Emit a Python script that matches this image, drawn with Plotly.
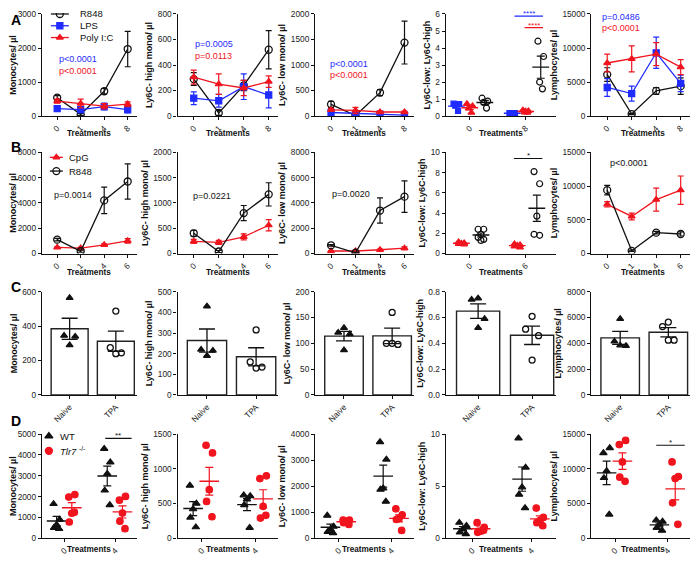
import numpy as np
import plotly.graph_objects as go

# ======================= DATA =======================
days_A = ["0", "1", "4", "8"]
days_B = ["0", "1", "4", "6"]
groups_A4 = ["0", "8"]
groups_B4 = ["0", "6"]
groups_C = ["Naive", "TPA"]
groups_D = ["0", "4"]

# Row A (means and SEM)
A_mono_r848 = [540, 50, 730, 1970];   A_mono_r848_err = [60, 30, 80, 520]
A_mono_lps = [220, 190, 280, 190];    A_mono_lps_err = [80, 90, 100, 100]
A_mono_pic = [440, 370, 290, 350];    A_mono_pic_err = [60, 130, 80, 70]
A_high_r848 = [290, 25, 240, 520];    A_high_r848_err = [50, 20, 40, 150]
A_high_lps = [140, 120, 230, 165];    A_high_lps_err = [50, 50, 100, 100]
A_high_pic = [305, 250, 220, 270];    A_high_pic_err = [55, 80, 60, 45]
A_low_r848 = [230, 10, 460, 1440];    A_low_r848_err = [60, 10, 60, 420]
A_low_lps = [70, 50, 40, 20];         A_low_lps_err = [20, 20, 10, 10]
A_low_pic = [120, 110, 80, 80];       A_low_pic_err = [30, 60, 20, 20]
A_ratio_lps = [[0.73, 0.7, 0.62, 0.3], [0.18, 0.17, 0.16, 0.15]]
A_ratio_pic = [[0.72, 0.6, 0.45, 0.2], [0.35, 0.3, 0.22, 0.2, 0.28]]
A_ratio_r848 = [[1.05, 0.88, 0.8, 0.47], [4.4, 3.5, 2.0, 1.6]]
A_lym_r848 = [6100, 300, 3700, 4400]; A_lym_r848_err = [1000, 100, 500, 1200]
A_lym_lps = [4200, 3300, 9300, 4800]; A_lym_lps_err = [1300, 1100, 2300, 1200]
A_lym_pic = [7800, 8400, 9100, 7200]; A_lym_pic_err = [1300, 1900, 1700, 1100]

# Row B
B_mono_cpg = [480, 430, 680, 1000];   B_mono_cpg_err = [50, 60, 80, 180]
B_mono_r848 = [1100, 180, 4200, 5700]; B_mono_r848_err = [100, 80, 1050, 1400]
B_high_cpg = [240, 220, 330, 560];    B_high_cpg_err = [40, 40, 60, 110]
B_high_r848 = [400, 40, 800, 1170];   B_high_r848_err = [60, 20, 150, 230]
B_low_cpg = [200, 200, 300, 420];     B_low_cpg_err = [30, 30, 60, 110]
B_low_r848 = [650, 60, 3400, 4500];   B_low_r848_err = [60, 30, 1000, 1250]
B_ratio_cpg = [[1.15, 1.05, 1.0, 0.95, 0.9], [0.95, 0.85, 0.8, 0.7, 0.6]]
B_ratio_r848 = [[2.4, 2.4, 1.9, 1.6, 1.4, 1.3], [8.1, 6.9, 3.7, 1.9, 1.8]]
B_lym_cpg = [7300, 5500, 8000, 9400]; B_lym_cpg_err = [400, 500, 1700, 2100]
B_lym_r848 = [9400, 400, 3100, 2900]; B_lym_r848_err = [700, 100, 200, 300]

# Row C (individual animals)
C_mono = [[565, 345, 340, 290], [488, 275, 245, 240]]
C_high = [[430, 220, 215, 190], [315, 160, 135, 130]]
C_low = [[130, 121, 118, 87], [160, 100, 98, 100]]
C_ratio = [[0.75, 0.74, 0.59, 0.52], [0.61, 0.51, 0.46, 0.27]]
C_lym = [[5900, 4150, 3800, 3850], [5650, 5300, 4250, 4250]]

# Row D (individual animals)
D_mono_wt = [[1650, 900, 650, 500, 450], [4300, 3650, 3100, 2300, 1600]]
D_mono_ko = [[1980, 2100, 1200, 780, 1250], [1830, 2010, 1210, 820, 460]]
D_high_wt = [[760, 500, 420, 300, 160], [620, 610, 560, 480, 150]]
D_high_ko = [[1340, 1230, 700, 530, 310], [860, 900, 460, 290, 330]]
D_low_wt = [[870, 450, 340, 250, 200], [3700, 3030, 1920, 1870, 1410]]
D_low_ko = [[700, 700, 650, 600, 530], [1130, 900, 760, 720, 300]]
D_ratio_wt = [[1.5, 1.2, 0.9, 0.57, 0.4], [9.6, 6.8, 4.9, 4.2, 2.9]]
D_ratio_ko = [[1.5, 1.05, 0.67, 0.57, 0.76], [2.9, 2.0, 1.7, 1.5, 1.2]]
D_lym_wt = [[12300, 13000, 9700, 8700, 3430], [2600, 2400, 2000, 1500, 1100]]
D_lym_ko = [[13500, 14100, 11000, 8800, 8200], [11000, 8900, 8600, 5100, 2000]]

ylabels = ["Monocytes/ µl", "Ly6C- high mono/ µl", "Ly6C- low mono/ µl",
           "Ly6C-low: Ly6C-high", "Lymphocytes/ µl"]

# ======================= STYLE =======================
PAGE_W, PAGE_H = 698, 564
OFF = 8                      # default body margin of the html page
W, H = PAGE_W - 2 * OFF, PAGE_H - 2 * OFF
FONT = "Arial, Liberation Sans, sans-serif"
BLACK = "#111111"
BLUE = "#1f2bff"
RED = "#f0141e"
COLS = [(40, 135), (176, 277), (314, 413), (445, 556), (591, 694)]
ROWS = [(9, 113), (150, 253), (292, 397), (437, 543)]


def px(x):
    return min(max((x - OFF) / W, 0.0), 1.0)


def py(y):
    return min(max(1 - (y - OFF) / H, 0.0), 1.0)


fig = go.Figure()


def aid(k):
    return "" if k == 1 else str(k)


def ax_refs(k):
    return "x" + aid(k), "y" + aid(k)


def line_series(k, cats, vals, errs, color, symbol, name):
    xr, yr = ax_refs(k)
    openm = symbol.endswith("open")
    fig.add_trace(go.Scatter(
        x=list(range(len(cats))), y=vals, mode="lines+markers", name=name,
        line=dict(color=color, width=1.3),
        marker=dict(symbol=symbol, size=7 if openm else 6, color=color,
                    line=dict(color=color, width=1.3)),
        error_y=dict(type="data", array=errs, color=color, thickness=1.2, width=3),
        xaxis=xr, yaxis=yr, showlegend=False))


def dot_series(k, groups_vals, offset, color, symbol, size, jit, mean_w=13):
    xr, yr = ax_refs(k)
    for gi, vals in enumerate(groups_vals):
        xs = [gi + offset + jit[i % len(jit)] for i in range(len(vals))]
        fig.add_trace(go.Scatter(
            x=xs, y=vals, mode="markers",
            marker=dict(symbol=symbol, size=size, color=color,
                        line=dict(color=color, width=1.2)),
            xaxis=xr, yaxis=yr, showlegend=False))
        m = float(np.mean(vals))
        s = float(np.std(vals, ddof=1) / np.sqrt(len(vals)))
        fig.add_trace(go.Scatter(
            x=[gi + offset], y=[m], mode="markers",
            marker=dict(symbol="line-ew", size=mean_w, color=color,
                        line=dict(color=color, width=1.4)),
            error_y=dict(type="data", array=[s], color=color, thickness=1.2, width=4),
            xaxis=xr, yaxis=yr, showlegend=False))


def bar_panel(k, groups_vals):
    xr, yr = ax_refs(k)
    means = [float(np.mean(v)) for v in groups_vals]
    sems = [float(np.std(v, ddof=1) / np.sqrt(len(v))) for v in groups_vals]
    fig.add_trace(go.Bar(
        x=list(range(len(groups_vals))), y=means, width=0.8,
        marker=dict(color="white", line=dict(color="#222", width=1.4)),
        error_y=dict(type="data", array=sems, color="#111", thickness=1.3, width=8),
        xaxis=xr, yaxis=yr, showlegend=False))
    jit = [0.0, -0.12, 0.12, 0.0]
    syms = ["triangle-up", "circle-open"]
    for gi, vals in enumerate(groups_vals):
        fig.add_trace(go.Scatter(
            x=[gi + jit[i % 4] for i in range(len(vals))], y=vals, mode="markers",
            marker=dict(symbol=syms[gi], size=6, color=BLACK,
                        line=dict(color=BLACK, width=1.3)),
            xaxis=xr, yaxis=yr, showlegend=False))


def sig_line(k, x0, x1, y, text, color=BLACK):
    xr, yr = ax_refs(k)
    fig.add_shape(type="line", xref=xr, yref=yr, x0=x0, x1=x1, y0=y, y1=y,
                  line=dict(color=color, width=1.2))
    fig.add_annotation(xref=xr, yref=yr, x=(x0 + x1) / 2, y=y, text=text,
                       showarrow=False, yanchor="bottom", yshift=-4,
                       font=dict(size=8, color=color, family=FONT))


# ---------- Row A ----------
for k, trip in [(1, (A_mono_r848, A_mono_r848_err, A_mono_lps, A_mono_lps_err, A_mono_pic, A_mono_pic_err)),
                (2, (A_high_r848, A_high_r848_err, A_high_lps, A_high_lps_err, A_high_pic, A_high_pic_err)),
                (3, (A_low_r848, A_low_r848_err, A_low_lps, A_low_lps_err, A_low_pic, A_low_pic_err)),
                (5, (A_lym_r848, A_lym_r848_err, A_lym_lps, A_lym_lps_err, A_lym_pic, A_lym_pic_err))]:
    line_series(k, days_A, trip[0], trip[1], BLACK, "circle-open", "R848")
    line_series(k, days_A, trip[2], trip[3], BLUE, "square", "LPS")
    line_series(k, days_A, trip[4], trip[5], RED, "triangle-up", "Poly I:C")
j4 = [-0.05, 0.05, -0.02, 0.03, 0.0]
dot_series(4, A_ratio_lps, -0.24, BLUE, "square", 5, j4, mean_w=12)
dot_series(4, A_ratio_pic, 0.0, RED, "triangle-up", 6, j4, mean_w=12)
dot_series(4, A_ratio_r848, 0.27, BLACK, "circle-open", 6, j4, mean_w=12)
sig_line(4, 0.8, 1.31, 5.87, "****", BLUE)
sig_line(4, 0.98, 1.31, 5.2, "****", RED)

# ---------- Row B ----------
for k, quad in [(6, (B_mono_cpg, B_mono_cpg_err, B_mono_r848, B_mono_r848_err)),
                (7, (B_high_cpg, B_high_cpg_err, B_high_r848, B_high_r848_err)),
                (8, (B_low_cpg, B_low_cpg_err, B_low_r848, B_low_r848_err)),
                (10, (B_lym_cpg, B_lym_cpg_err, B_lym_r848, B_lym_r848_err))]:
    line_series(k, days_B, quad[0], quad[1], RED, "triangle-up", "CpG")
    line_series(k, days_B, quad[2], quad[3], BLACK, "circle-open", "R848")
jb = [-0.05, 0.05, 0.0, -0.05, 0.05, 0.0]
dot_series(9, B_ratio_cpg, -0.15, RED, "triangle-up", 6, jb, mean_w=12)
dot_series(9, B_ratio_r848, 0.2, BLACK, "circle-open", 6, jb, mean_w=12)
sig_line(9, 0.79, 1.3, 9.4, "*")

# ---------- Row C ----------
for i, vals in enumerate([C_mono, C_high, C_low, C_ratio, C_lym]):
    bar_panel(11 + i, vals)

# ---------- Row D ----------
jd = [-0.06, 0.06, 0.0, -0.05, 0.05]
D_sets = [(D_mono_wt, D_mono_ko), (D_high_wt, D_high_ko), (D_low_wt, D_low_ko),
          (D_ratio_wt, D_ratio_ko), (D_lym_wt, D_lym_ko)]
for i, (wt, ko) in enumerate(D_sets):
    k = 16 + i
    dot_series(k, wt, -0.16, BLACK, "triangle-up", 6.5, jd, mean_w=14)
    dot_series(k, ko, 0.14, RED, "circle", 6.5, jd, mean_w=14)
sig_line(16, 0.8, 1.32, 4800, "**")
sig_line(18, 0.76, 1.3, 4100, "***")
sig_line(19, 0.78, 1.32, 10.1, "**")
sig_line(20, 0.78, 1.32, 13400, "*")

# ======================= AXES =======================
yranges = [
    [(0, 3000, 1000), (0, 800, 200), (0, 2000, 500), (0, 6, 1), (0, 15000, 5000)],
    [(0, 8000, 2000), (0, 2000, 500), (0, 8000, 2000), (0, 10, 2), (0, 15000, 5000)],
    [(0, 600, 200), (0, 500, 100), (0, 200, 50), (0, 0.8, 0.2), (0, 8000, 2000)],
    [(0, 5000, 1000), (0, 1500, 500), (0, 4000, 1000), (0, 10, 5), (0, 15000, 5000)],
]
row_cats = [
    [days_A, days_A, days_A, groups_A4, days_A],
    [days_B, days_B, days_B, groups_B4, days_B],
    [groups_C] * 5,
    [groups_D] * 5,
]

base = dict(showline=True, linecolor="#111", linewidth=1.3, ticks="outside",
            ticklen=3, tickwidth=1.2, tickcolor="#111", showgrid=False,
            zeroline=False, exponentformat="none", separatethousands=False,
            tickfont=dict(size=8.3, color="#222", family=FONT))

layout = dict(width=W, height=H, margin=dict(l=0, r=0, t=0, b=0),
              plot_bgcolor="rgba(0,0,0,0)", paper_bgcolor="white",
              font=dict(family=FONT, color="#111"), showlegend=False)

treat_y = [131, 272, None, 554]
for r in range(4):
    for c in range(5):
        k = r * 5 + c + 1
        x0, x1 = COLS[c]
        top, bot = ROWS[r]
        cats = row_cats[r][c]
        if r < 2 and c != 3:
            xrng = [-0.65, 3.38]
        elif r < 2:
            xrng = [-0.43, 1.55]
        elif r == 2:
            xrng = [-0.6, 1.45]
        else:
            xrng = [-0.45, 1.42]
        xa = dict(base, domain=[px(x0), px(x1)], anchor="y" + aid(k),
                  range=xrng, tickvals=list(range(len(cats))), ticktext=cats,
                  tickangle=-45)
        lo, hi, dt = yranges[r][c]
        ya = dict(base, domain=[py(bot), py(top)], anchor="x" + aid(k),
                  range=[lo, hi], dtick=dt, tickformat="d",
                  title=dict(text="<b>" + ylabels[c] + "</b>", standoff=3,
                             font=dict(size=9, family=FONT, color="#111")))
        if r == 2 and c == 3:
            ya["tickformat"] = ".1f"
        layout["xaxis" + aid(k)] = xa
        layout["yaxis" + aid(k)] = ya
        if treat_y[r] is not None:
            fig.add_annotation(xref="paper", yref="paper",
                               x=px((x0 + x1) / 2), y=py(treat_y[r]),
                               text="<b>Treatments</b>", showarrow=False,
                               xanchor="center", yanchor="middle",
                               font=dict(size=8.2, family=FONT, color="#111"))

# overlay axis in page-pixel units, used only for the legend keys
layout["xaxis21"] = dict(domain=[0, 1], range=[OFF, PAGE_W - OFF], visible=False,
                         anchor="y21", fixedrange=True)
layout["yaxis21"] = dict(domain=[0, 1], range=[PAGE_H - OFF, OFF], visible=False,
                         anchor="x21", fixedrange=True)
fig.update_layout(**layout)


def legend_key(x0, x1, y, color, symbol, size, with_line=True):
    if with_line:
        fig.add_trace(go.Scatter(x=[x0, x1], y=[y, y], mode="lines",
                                 line=dict(color=color, width=1.3),
                                 xaxis="x21", yaxis="y21", showlegend=False,
                                 hoverinfo="skip"))
    fig.add_trace(go.Scatter(x=[(x0 + x1) / 2], y=[y], mode="markers",
                             marker=dict(symbol=symbol, size=size, color=color,
                                         line=dict(color=color, width=1.3)),
                             xaxis="x21", yaxis="y21", showlegend=False,
                             hoverinfo="skip"))


def ptext(text, x, y, color, size=9, anchor="left"):
    fig.add_annotation(xref="paper", yref="paper", x=px(x), y=py(y),
                       text=text, showarrow=False, xanchor=anchor,
                       yanchor="middle",
                       font=dict(size=size, color=color, family=FONT))


# Legends
legend_key(49, 67, 9, BLACK, "circle-open", 7)
legend_key(49, 67, 21, BLUE, "square", 6)
legend_key(49, 67, 33, RED, "triangle-up", 6)
ptext("R848", 76, 9, BLACK, 9.5); ptext("LPS", 76, 21, BLACK, 9.5)
ptext("Poly I:C", 76, 33, BLACK, 9.5)
legend_key(48, 61, 155, RED, "triangle-up", 6)
legend_key(48, 61, 169, BLACK, "circle-open", 7)
ptext("CpG", 65, 155, BLACK, 9.5); ptext("R848", 65, 169, BLACK, 9.5)
legend_key(47, 47, 439, BLACK, "triangle-up", 7, with_line=False)
legend_key(47, 47, 454, RED, "circle", 7, with_line=False)
ptext("WT", 56, 439, BLACK, 9.5)
ptext("<i>Tlr7</i> <sup>-/-</sup>", 56, 454, BLACK, 9.5)

# p-values
ptext("p<0.0001", 55, 55, BLUE); ptext("p<0.0001", 55, 67, RED)
ptext("p=0.0005", 192, 40, BLUE); ptext("p=0.0113", 192, 52, RED)
ptext("p<0.0001", 327, 60, BLUE); ptext("p<0.0001", 327, 71, RED)
ptext("p=0.0486", 600, 12, BLUE); ptext("p<0.0001", 600, 23, RED)
ptext("p=0.0014", 50, 193, BLACK); ptext("p=0.0221", 190, 194, BLACK)
ptext("p=0.0020", 329, 192, BLACK); ptext("p<0.0001", 608, 161, BLACK)

# panel letters
for letter, y in [("A", 15), ("B", 144), ("C", 287), ("D", 424)]:
    fig.add_annotation(xref="paper", yref="paper", x=0, y=py(y),
                       text="<b>" + letter + "</b>", showarrow=False,
                       xanchor="left", yanchor="middle", borderpad=0,
                       font=dict(size=14, color="#000", family=FONT))

fig.write_html("out.html")
